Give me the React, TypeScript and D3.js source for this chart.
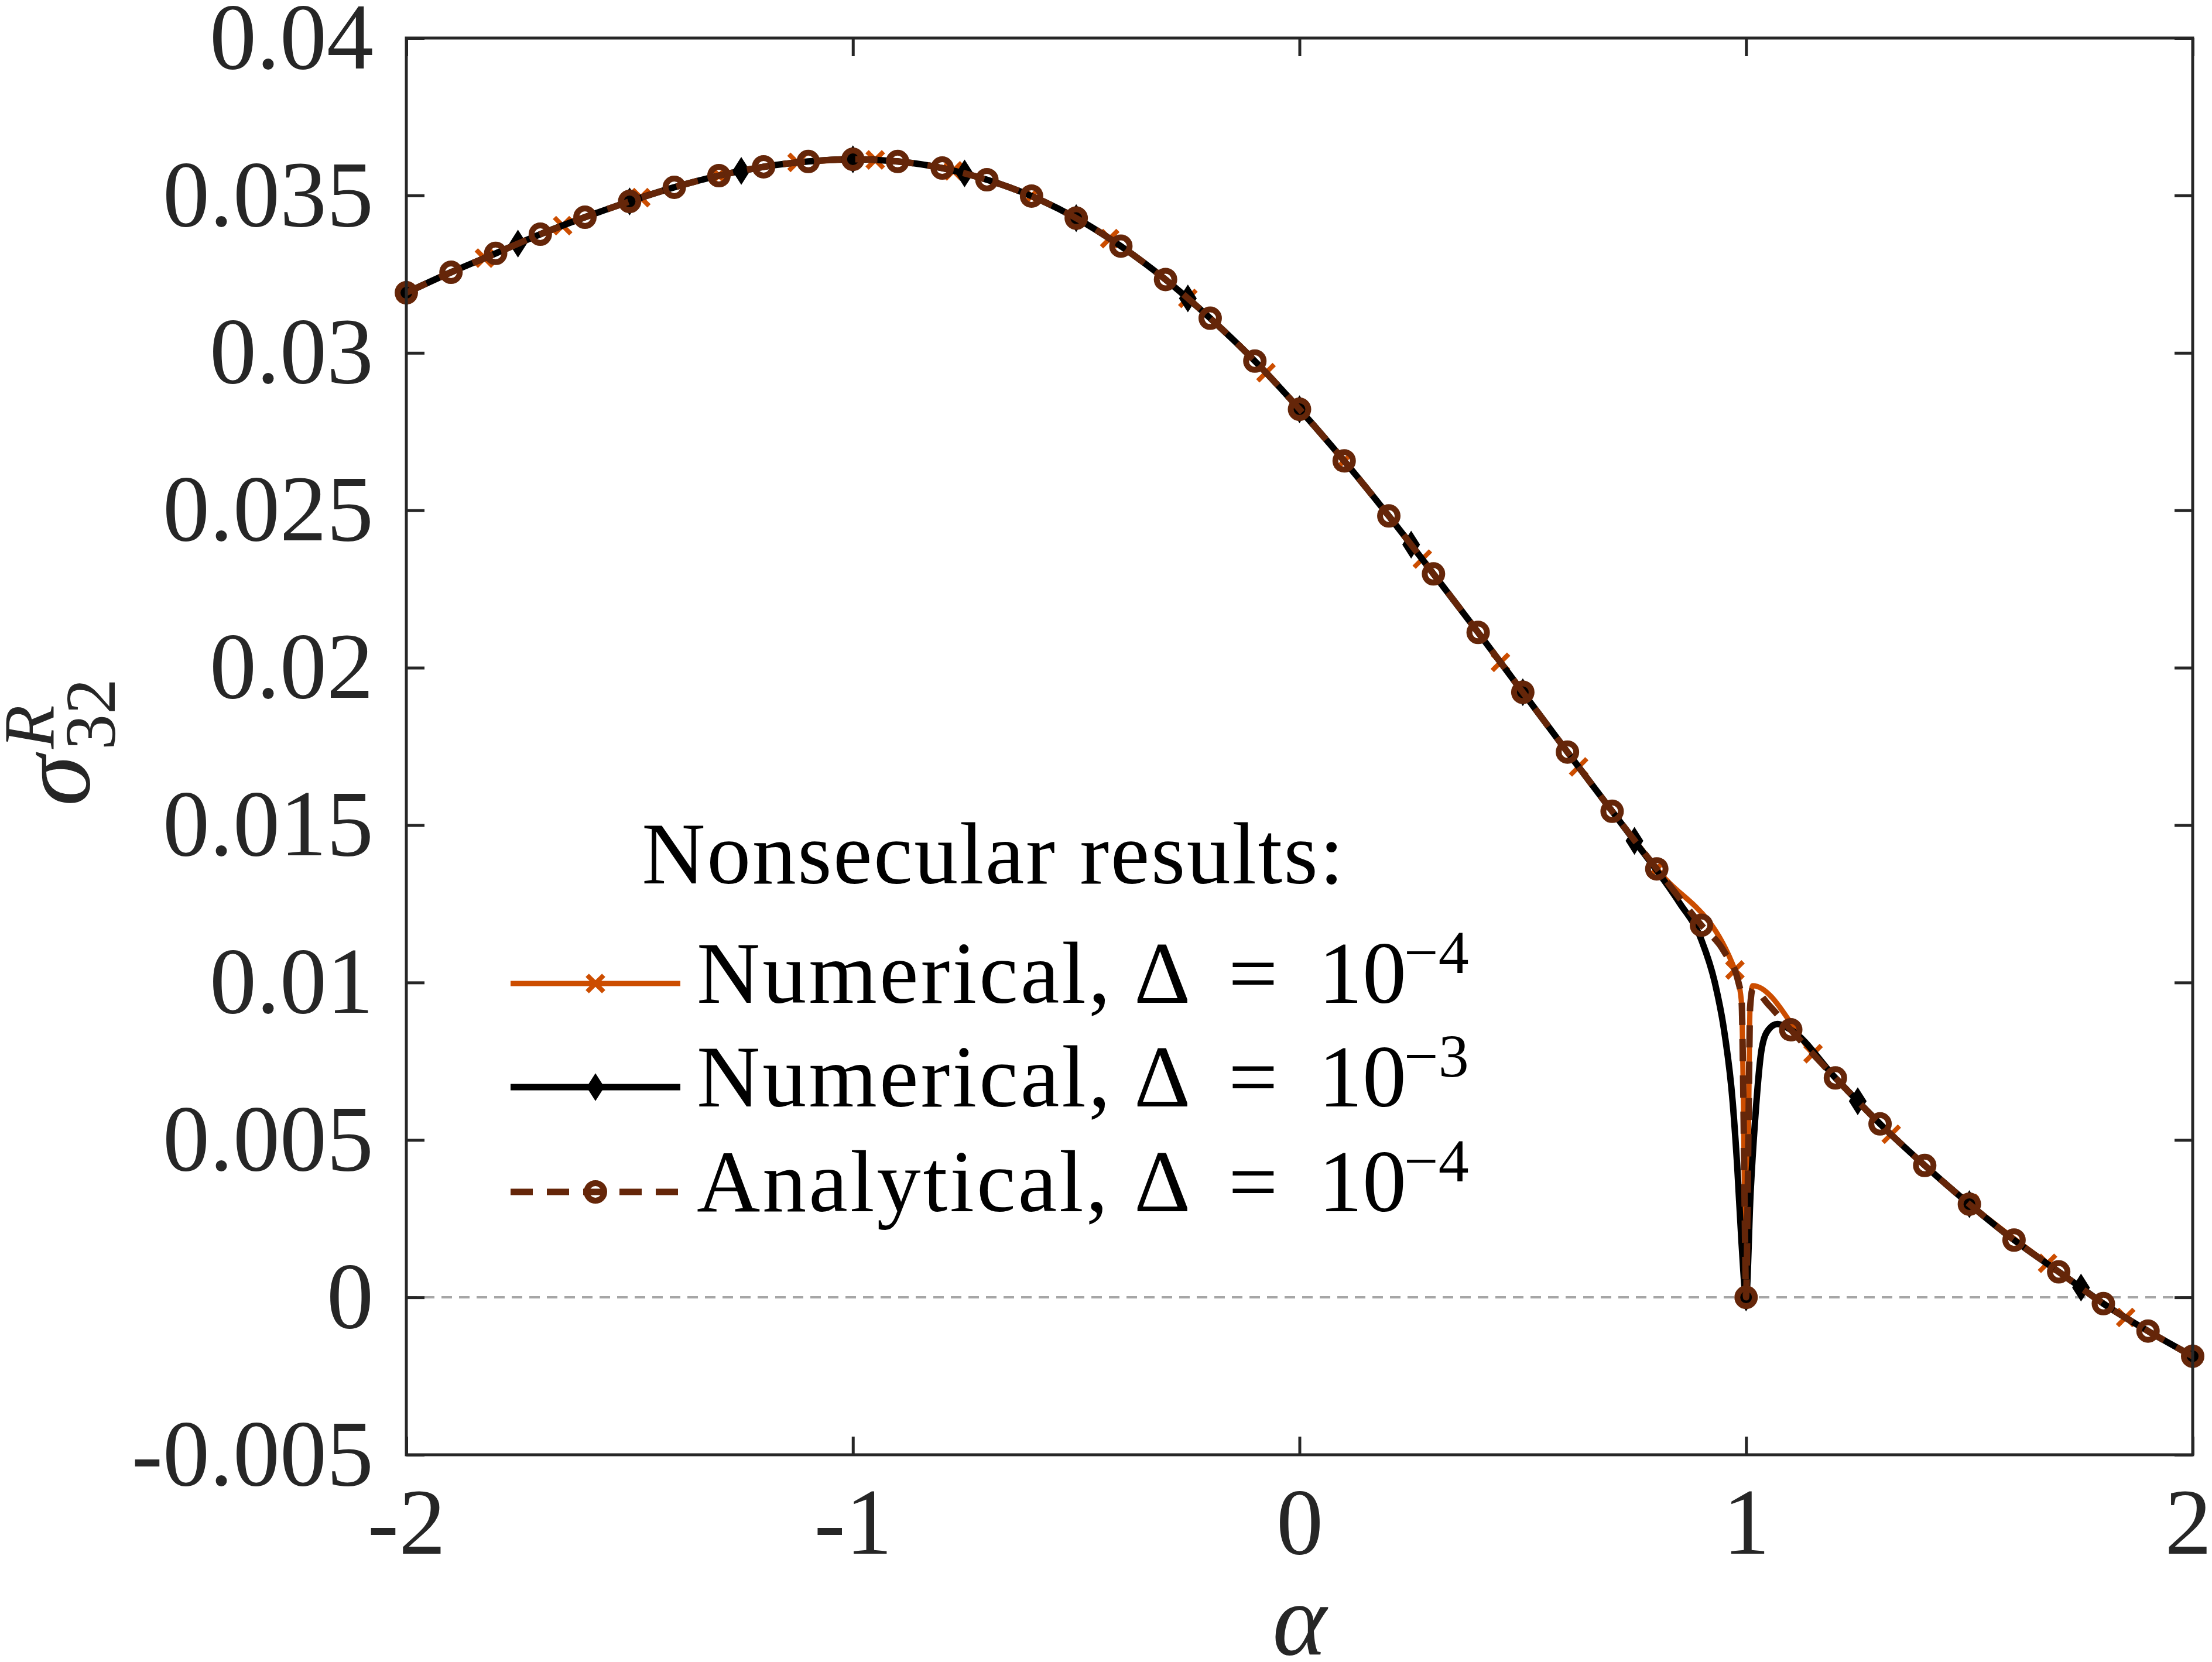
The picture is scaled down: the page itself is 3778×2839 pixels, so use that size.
import React, { useEffect, useRef } from 'react';
import * as d3 from 'd3';

const W = 3778;
const H = 2839;
const margin = { top: 65, right: 33, bottom: 354, left: 694 };

const xTicks = [-2, -1, 0, 1, 2];
const yTicks = [-0.005, 0, 0.005, 0.01, 0.015, 0.02, 0.025, 0.03, 0.035, 0.04];

// Numerical, Delta = 1e-4 (orange, x markers)
const num4Alpha = [
  -2, -1.825, -1.65, -1.475, -1.3, -1.125, -0.95, -0.775, -0.6, -0.425, -0.25, -0.075,
  0.1, 0.275, 0.45, 0.625, 0.8, 0.975, 0.983, 0.99, 0.994, 0.997, 1.0, 1.003, 1.006,
  1.009, 1.015, 1.15, 1.325, 1.5, 1.675, 1.85, 2,
];
const num4Value = [
  0.03191, 0.03301, 0.03404, 0.03493, 0.03563, 0.03605, 0.03613, 0.03578, 0.03498, 0.03363,
  0.03173, 0.02937, 0.02657, 0.02345, 0.02017, 0.01685, 0.01361, 0.0104, 0.01, 0.0093,
  0.0061, 0.0025, 0, 0.0025, 0.0061, 0.0093, 0.0099, 0.00774, 0.00518, 0.00298, 0.00108,
  -0.00064, -0.00186,
];
const num4Markers = [
  -2, -1.825, -1.65, -1.475, -1.3, -1.125, -0.95, -0.775, -0.6, -0.425, -0.25, -0.075,
  0.1, 0.275, 0.45, 0.625, 0.8, 0.975, 1.15, 1.325, 1.5, 1.675, 1.85,
];

// Numerical, Delta = 1e-3 (black, diamonds)
const num3Alpha = [
  -2, -1.9, -1.8, -1.75, -1.7, -1.6, -1.5, -1.4, -1.3, -1.25, -1.2, -1.1, -1.0, -0.9, -0.8,
  -0.75, -0.7, -0.6, -0.5, -0.4, -0.3, -0.25, -0.2, -0.1, 0, 0.1, 0.2, 0.25, 0.3, 0.4, 0.5,
  0.6, 0.7, 0.75, 0.8, 0.85, 0.9, 0.93, 0.95, 0.97, 0.98, 0.99, 1.0, 1.01, 1.02, 1.035, 1.05,
  1.07, 1.1, 1.2, 1.25, 1.3, 1.4, 1.5, 1.6, 1.7, 1.75, 1.8, 1.9, 2,
];
const num3Value = [
  0.03191, 0.03256, 0.03316, 0.03347, 0.03377, 0.03431, 0.03481, 0.03526, 0.03563, 0.03578,
  0.03591, 0.03608, 0.03615, 0.03608, 0.03587, 0.0357, 0.0355, 0.03498, 0.03428, 0.03339,
  0.03233, 0.03173, 0.0311, 0.02974, 0.02821, 0.02657, 0.02482, 0.02391, 0.02298, 0.02112,
  0.01922, 0.01732, 0.01544, 0.0145, 0.01356, 0.01255, 0.01135, 0.01, 0.00855, 0.0062,
  0.0042, 0.0017, 0, 0.0033, 0.0056, 0.0079, 0.0085, 0.00868, 0.0085, 0.00697, 0.00623,
  0.00551, 0.00419, 0.00296, 0.00182, 0.00081, 0.00031, -0.0002, -0.00107, -0.00187,
];
const num3Markers = [
  -2, -1.75, -1.5, -1.25, -1.0, -0.75, -0.5, -0.25, 0, 0.25, 0.5, 0.75, 1.0, 1.25, 1.5, 1.75, 2,
];

// Analytical, Delta = 1e-4 (brown dashed, circles)
const anaAlpha = [
  -2, -1.9, -1.8, -1.7, -1.6, -1.5, -1.4, -1.3, -1.2, -1.1, -1.0, -0.9, -0.8, -0.7, -0.6,
  -0.5, -0.4, -0.3, -0.2, -0.1, 0, 0.1, 0.2, 0.3, 0.4, 0.5, 0.6, 0.7, 0.8, 0.9, 0.95, 0.983,
  0.99, 0.994, 0.997, 1.0, 1.003, 1.006, 1.009, 1.015, 1.05, 1.1, 1.2, 1.3, 1.4, 1.5, 1.6,
  1.7, 1.8, 1.9, 2,
];
const anaValue = [
  0.03191, 0.03256, 0.03316, 0.03377, 0.03431, 0.03481, 0.03526, 0.03563, 0.03591, 0.03608,
  0.03615, 0.03608, 0.03587, 0.0355, 0.03498, 0.03428, 0.03339, 0.03233, 0.0311, 0.02974,
  0.02821, 0.02657, 0.02482, 0.02298, 0.02112, 0.01922, 0.01732, 0.01544, 0.01361, 0.01182,
  0.011, 0.01, 0.0094, 0.0062, 0.0026, 0, 0.0026, 0.0062, 0.0092, 0.0098, 0.0093, 0.0085,
  0.00697, 0.00551, 0.00419, 0.00296, 0.00182, 0.00081, -0.0002, -0.00107, -0.00187,
];
const anaMarkers = [
  -2, -1.9, -1.8, -1.7, -1.6, -1.5, -1.4, -1.3, -1.2, -1.1, -1.0, -0.9, -0.8, -0.7, -0.6,
  -0.5, -0.4, -0.3, -0.2, -0.1, 0, 0.1, 0.2, 0.3, 0.4, 0.5, 0.6, 0.7, 0.8, 0.9, 1.0, 1.1,
  1.2, 1.3, 1.4, 1.5, 1.6, 1.7, 1.8, 1.9, 2,
];

const legendTitle = 'Nonsecular results:';
const legendNames = ['Numerical,', 'Numerical,', 'Analytical,'];
const legendExps = ['−4', '−3', '−4'];

const ORANGE = '#cc4d00';
const BLACK = '#000000';
const BROWN = '#652609';
const AXIS = '#262626';
const FONT = "'Liberation Serif', 'DejaVu Serif', serif";

const App: React.FC = () => {
  const svgRef = useRef<SVGSVGElement | null>(null);

  useEffect(() => {
    const svg = d3.select(svgRef.current);
    svg.selectAll('*').remove();

    const x = d3.scaleLinear().domain([-2, 2]).range([margin.left, W - margin.right]);
    const y = d3.scaleLinear().domain([-0.005, 0.04]).range([H - margin.bottom, margin.top]);
    const x0 = margin.left;
    const x1 = W - margin.right;
    const y0 = margin.top;
    const y1 = H - margin.bottom;
    const tick = 31;

    // zero reference line
    svg
      .append('line')
      .attr('x1', x(-2))
      .attr('x2', x(2))
      .attr('y1', y(0))
      .attr('y2', y(0))
      .attr('stroke', '#a6a6a6')
      .attr('stroke-width', 4)
      .attr('stroke-dasharray', '18 12');

    const line = d3
      .line<[number, number]>()
      .x((d) => x(d[0]))
      .y((d) => y(d[1]))
      .curve(d3.curveMonotoneX);

    const drawMarker = (
      g: d3.Selection<SVGGElement, unknown, null, undefined>,
      kind: string,
      px: number,
      py: number,
    ) => {
      if (kind === 'x') {
        const s = 14;
        g.append('path')
          .attr('d', `M${px - s},${py - s}L${px + s},${py + s}M${px - s},${py + s}L${px + s},${py - s}`)
          .attr('stroke', ORANGE)
          .attr('stroke-width', 8)
          .attr('fill', 'none');
      } else if (kind === 'd') {
        g.append('path')
          .attr('d', `M${px},${py - 22}L${px + 14},${py}L${px},${py + 22}L${px - 14},${py}Z`)
          .attr('fill', BLACK)
          .attr('stroke', BLACK)
          .attr('stroke-width', 2);
      } else {
        g.append('circle')
          .attr('cx', px)
          .attr('cy', py)
          .attr('r', 15)
          .attr('fill', 'none')
          .attr('stroke', BROWN)
          .attr('stroke-width', 10);
      }
    };

    const series = [
      { a: num4Alpha, v: num4Value, m: num4Markers, color: ORANGE, width: 9, dash: null, kind: 'x' },
      { a: num3Alpha, v: num3Value, m: num3Markers, color: BLACK, width: 11, dash: null, kind: 'd' },
      { a: anaAlpha, v: anaValue, m: anaMarkers, color: BROWN, width: 11, dash: '38 24', kind: 'o' },
    ];

    series.forEach((s) => {
      const pts: [number, number][] = s.a.map((a, i) => [a, s.v[i]]);
      const g = svg.append('g');
      g.append('path')
        .attr('d', line(pts) || '')
        .attr('fill', 'none')
        .attr('stroke', s.color)
        .attr('stroke-width', s.width)
        .attr('stroke-linejoin', 'round')
        .attr('stroke-dasharray', s.dash);
      pts
        .filter((p) => s.m.some((m) => Math.abs(m - p[0]) < 1e-6))
        .forEach((p) => drawMarker(g, s.kind, x(p[0]), y(p[1])));
    });

    // axes box
    svg
      .append('rect')
      .attr('x', x0)
      .attr('y', y0)
      .attr('width', x1 - x0)
      .attr('height', y1 - y0)
      .attr('fill', 'none')
      .attr('stroke', AXIS)
      .attr('stroke-width', 5);

    const styleAxis = (g: d3.Selection<SVGGElement, unknown, null, undefined>) => {
      g.select('.domain').remove();
      g.selectAll('.tick line').attr('stroke', AXIS).attr('stroke-width', 5);
      g.selectAll('.tick text')
        .attr('fill', AXIS)
        .attr('font-family', FONT)
        .attr('font-size', 160);
    };

    const fmt = (d: d3.NumberValue) => String(+(+d).toFixed(3));

    const gx = svg
      .append('g')
      .attr('transform', `translate(0,${y1})`)
      .call(d3.axisBottom(x).tickValues(xTicks).tickSizeInner(-tick).tickSizeOuter(0).tickPadding(55).tickFormat(fmt))
      .call(styleAxis);
    // keep the last label inside the picture
    gx.selectAll<SVGTextElement, number>('.tick text').attr('dx', (d) => (d === 2 ? -8 : 0));

    svg
      .append('g')
      .attr('transform', `translate(0,${y0})`)
      .call(d3.axisTop(x).tickValues(xTicks).tickSizeInner(-tick).tickSizeOuter(0).tickFormat(() => ''))
      .call(styleAxis);
    svg
      .append('g')
      .attr('transform', `translate(${x0},0)`)
      .call(d3.axisLeft(y).tickValues(yTicks).tickSizeInner(-tick).tickSizeOuter(0).tickPadding(56).tickFormat(fmt))
      .call(styleAxis);
    svg
      .append('g')
      .attr('transform', `translate(${x1},0)`)
      .call(d3.axisRight(y).tickValues(yTicks).tickSizeInner(-tick).tickSizeOuter(0).tickFormat(() => ''))
      .call(styleAxis);

    // axis labels
    svg
      .append('text')
      .attr('x', (x0 + x1) / 2)
      .attr('y', 2826)
      .attr('text-anchor', 'middle')
      .attr('font-family', FONT)
      .attr('font-style', 'italic')
      .attr('font-size', 176)
      .attr('fill', AXIS)
      .text('α');

    const yl = svg.append('g').attr('transform', `translate(152,${(y0 + y1) / 2}) rotate(-90)`);
    yl.append('text')
      .attr('x', -102)
      .attr('y', 0)
      .attr('font-family', FONT)
      .attr('font-style', 'italic')
      .attr('font-size', 176)
      .attr('fill', AXIS)
      .text('σ');
    yl.append('text')
      .attr('x', -4)
      .attr('y', -61)
      .attr('font-family', FONT)
      .attr('font-style', 'italic')
      .attr('font-size', 122)
      .attr('fill', AXIS)
      .text('R');
    yl.append('text')
      .attr('x', -6)
      .attr('y', 44)
      .attr('font-family', FONT)
      .attr('font-size', 122)
      .attr('fill', AXIS)
      .text('32');

    // legend
    const lg = svg.append('g');
    lg.append('text')
      .attr('x', 1697)
      .attr('y', 1509)
      .attr('text-anchor', 'middle')
      .attr('font-family', FONT)
      .attr('font-size', 150)
      .attr('letter-spacing', 2.5)
      .attr('fill', '#000')
      .text(legendTitle);

    const rowY = [1680, 1857, 2036];
    series.forEach((s, i) => {
      const ry = rowY[i];
      lg.append('line')
        .attr('x1', 872)
        .attr('x2', 1162)
        .attr('y1', ry)
        .attr('y2', ry)
        .attr('stroke', s.color)
        .attr('stroke-width', s.width)
        .attr('stroke-dasharray', s.dash);
      drawMarker(lg, s.kind, 1017, ry);
      const t = lg
        .append('text')
        .attr('y', ry + 33)
        .attr('font-family', FONT)
        .attr('font-size', 150)
        .attr('fill', '#000');
      t.append('tspan').attr('x', 1190).attr('letter-spacing', 4).text(legendNames[i]);
      t.append('tspan').attr('x', 1937).text('Δ');
      t.append('tspan').attr('x', 2098).text('=');
      t.append('tspan').attr('x', 2252).text('10');
      t.append('tspan').attr('x', 2398).attr('dy', -51).attr('font-size', 104).text(legendExps[i]);
    });
  }, []);

  return (
    <svg
      ref={svgRef}
      width={W}
      height={H}
      style={{ position: 'absolute', left: 0, top: 0, background: '#fff' }}
    />
  );
};

export default App;
